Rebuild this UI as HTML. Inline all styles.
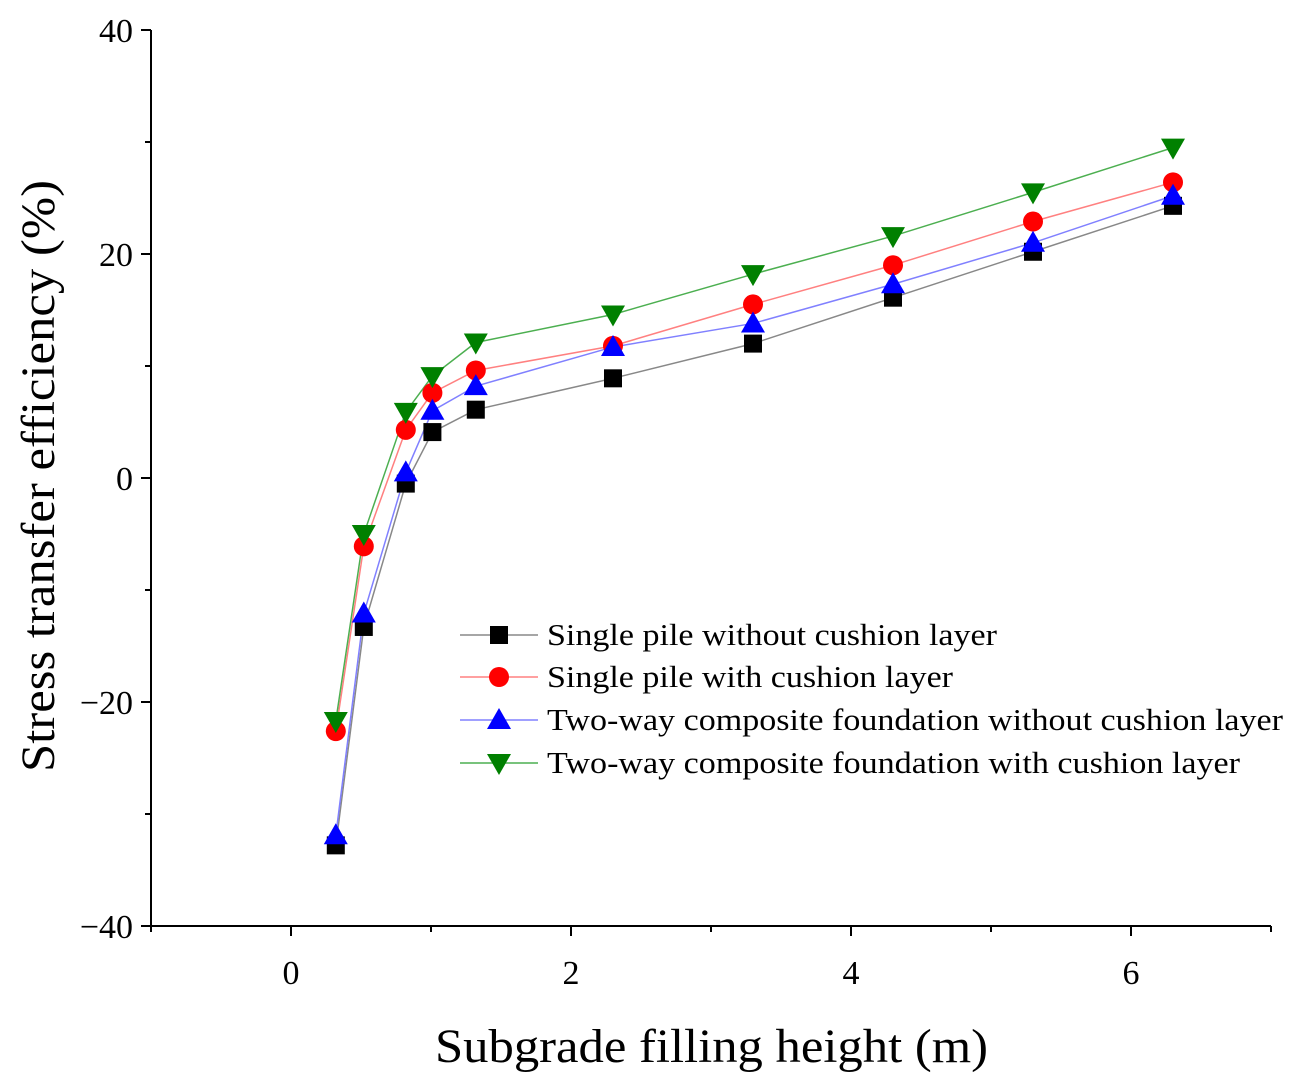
<!DOCTYPE html>
<html><head><meta charset="utf-8"><style>
body{margin:0;background:#fff}
svg{display:block;font-family:"Liberation Serif",serif}
</style></head><body>
<svg id="chart" width="1298" height="1088" viewBox="0 0 1298 1088" xmlns="http://www.w3.org/2000/svg">
<g id="axes"></g>
<g id="series"></g>
<g id="legend"></g>
<text x="435" y="1062" font-size="48" textLength="553" lengthAdjust="spacingAndGlyphs">Subgrade filling height (m)</text>
<text transform="translate(54,772) rotate(-90)" font-size="48" textLength="592" lengthAdjust="spacingAndGlyphs">Stress transfer efficiency (%)</text>
</svg>
<script>
const xValues=[0.32,0.52,0.82,1.01,1.32,2.3,3.3,4.3,5.3,6.3];
const singleNoCushion=[-32.8,-13.3,-0.5,4.1,6.1,8.9,12,16.1,20.2,24.3];
const singleCushion=[-22.6,-6.1,4.3,7.6,9.6,11.8,15.5,19,22.9,26.4];
const twoWayNoCushion=[-31.9,-12.1,0.5,6,8.2,11.7,13.8,17.3,21,25.2];
const twoWayCushion=[-21.7,-5,5.9,9.1,12.1,14.6,18.2,21.6,25.5,29.5];
const seriesNames=["Single pile without cushion layer","Single pile with cushion layer","Two-way composite foundation without cushion layer","Two-way composite foundation with cushion layer"];
const xTicks=[0,2,4,6];
const yTicks=[-40,-20,0,20,40];
const yTickLabels=["\u221240","\u221220","0","20","40"];

const NS="http://www.w3.org/2000/svg";
const X=v=>291+v*140;
const Y=v=>478-v*11.2;
function mk(tag,attrs,parent){const e=document.createElementNS(NS,tag);for(const k in attrs)e.setAttribute(k,attrs[k]);parent.appendChild(e);return e;}
const axes=document.getElementById('axes');
let e;
e=mk('line',{x1:X(-1),y1:Y(-40),x2:X(7),y2:Y(-40),stroke:'#000','stroke-width':2},axes);


e=mk('line',{x1:X(-1),y1:Y(-40),x2:X(-1),y2:Y(40),stroke:'#000','stroke-width':2},axes);


for(let v=-1;v<=7;v++){
  const major=xTicks.includes(v);
  e=mk('line',{x1:X(v),y1:Y(-40),x2:X(v),y2:Y(-40)+(major?10:6),stroke:'#000','stroke-width':2},axes);
  
  
}
xTicks.forEach(v=>{
  e=mk('text',{x:X(v),y:984,'font-size':34,'text-anchor':'middle'},axes);e.textContent=v;
  
  
});
for(let v=-40;v<=40;v+=10){
  const major=yTicks.includes(v);
  e=mk('line',{x1:X(-1),y1:Y(v),x2:X(-1)-(major?10:6),y2:Y(v),stroke:'#000','stroke-width':2},axes);
  
  
}
yTicks.forEach((v,i)=>{
  e=mk('text',{x:133,y:Y(v)+12,'font-size':34,'text-anchor':'end'},axes);e.textContent=yTickLabels[i];
  
  
});
const ser=document.getElementById('series');
const data=[singleNoCushion,singleCushion,twoWayNoCushion,twoWayCushion];
const lineColors=['#888','#ff8080','#8080ff','#4caf50'];
const fills=['#000','#ff0000','#0000ff','#008000'];
const names=['single-no-cushion','single-cushion','two-way-no-cushion','two-way-cushion'];
function marker(i,cx,cy,parent){
  if(i===0)return mk('rect',{x:cx-9,y:cy-9,width:18,height:18,fill:fills[i]},parent);
  if(i===1)return mk('circle',{cx:cx,cy:cy,r:10,fill:fills[i]},parent);
  if(i===2)return mk('polygon',{points:`${cx},${cy-12} ${cx-12},${cy+9} ${cx+12},${cy+9}`,fill:fills[i]},parent);
  return mk('polygon',{points:`${cx},${cy+12} ${cx-12},${cy-9} ${cx+12},${cy-9}`,fill:fills[i]},parent);
}
data.forEach((vals,i)=>{
  e=mk('polyline',{points:vals.map((v,j)=>X(xValues[j])+','+Y(v)).join(' '),fill:'none',stroke:lineColors[i],'stroke-width':1.5},ser);
  
  
});
data.forEach((vals,i)=>{
  vals.forEach((v,j)=>{
    e=marker(i,X(xValues[j]),Y(v),ser);
    
    
  });
});
const leg=document.getElementById('legend');
const ly=[635,677,720,763];
const lw=[450,406,736,693];
seriesNames.forEach((n,i)=>{
  const g=mk('g',{},leg);
  
  
  mk('line',{x1:460,y1:ly[i],x2:538,y2:ly[i],stroke:lineColors[i],'stroke-width':1.5},g);
  marker(i,499,ly[i],g);
  const t=mk('text',{x:547,y:ly[i]+10,'font-size':31,textLength:lw[i],lengthAdjust:'spacingAndGlyphs'},g);t.textContent=n;
});
</script>
</body></html>
